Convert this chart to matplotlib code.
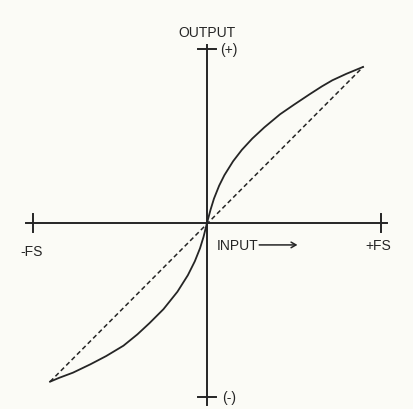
import matplotlib
matplotlib.use("Agg")
import matplotlib.pyplot as plt

# Transfer curve (input, output) in full-scale units
curve_x = [-0.902, -0.85, -0.77, -0.67, -0.58, -0.48, -0.40, -0.33, -0.25,
           -0.17, -0.11, -0.07, -0.04, -0.02, 0.0,
           0.02, 0.04, 0.07, 0.10, 0.15, 0.20, 0.26, 0.33, 0.42,
           0.50, 0.59, 0.66, 0.72, 0.80, 0.897]
curve_y = [-0.912, -0.89, -0.86, -0.812, -0.765, -0.705, -0.64, -0.575, -0.495,
           -0.395, -0.30, -0.22, -0.145, -0.08, 0.0,
           0.075, 0.14, 0.215, 0.275, 0.355, 0.42, 0.485, 0.55, 0.625,
           0.68, 0.74, 0.785, 0.82, 0.857, 0.897]
# Ideal (linear) reference line
ideal_x = [-0.902, 0.897]
ideal_y = [-0.912, 0.897]
# Axis labels
x_tick_labels = ["-FS", "+FS"]
y_tick_labels = ["(+)", "(-)"]

bg = "#fbfbf6"
ink = "#252525"

plt.rcParams["font.family"] = ["Liberation Sans", "DejaVu Sans"]

fig = plt.figure(figsize=(4.14, 4.10), dpi=100, facecolor=bg)
ax = fig.add_axes([0, 0, 1, 1])
ax.set_facecolor(bg)
ax.set_xlim(-207 / 174, (414 - 207) / 174)
ax.set_ylim((224 - 410) / 174, 224 / 174)
ax.axis("off")

# axes
ax.plot([-1.04, 1.034], [0, 0], color=ink, lw=1.4)
ax.plot([0, 0], [-1.046, 1.023], color=ink, lw=1.4)
# ticks
for x in (-1, 1):
    ax.plot([x, x], [-0.05, 0.05], color=ink, lw=1.4)
for y in (-1, 1):
    ax.plot([-0.05, 0.05], [y, y], color=ink, lw=1.4)

# curves
ax.plot(curve_x, curve_y, color=ink, lw=1.3, solid_joinstyle="round")
ax.plot(ideal_x, ideal_y, color=ink, lw=1.1, ls=(0, (3, 2)))

fs = 10
ax.text(0, 1.095, "OUTPUT", ha="center", va="center", fontsize=fs, color=ink)
ax.text(0.075, 1.0, y_tick_labels[0], ha="left", va="center", fontsize=fs, color=ink)
ax.text(0.087, -1.0, y_tick_labels[1], ha="left", va="center", fontsize=fs, color=ink)
ax.text(-1.01, -0.16, x_tick_labels[0], ha="center", va="center", fontsize=fs, color=ink)
ax.text(0.985, -0.126, x_tick_labels[1], ha="center", va="center", fontsize=fs, color=ink)
ax.text(0.057, -0.126, "INPUT", ha="left", va="center", fontsize=fs, color=ink)
ax.annotate("", xy=(0.52, -0.126), xytext=(0.30, -0.126),
            arrowprops=dict(arrowstyle="->,head_length=0.35,head_width=0.2",
                            color=ink, lw=1.1, shrinkA=0, shrinkB=0))

fig.savefig("out.png", dpi=100, facecolor=bg)
